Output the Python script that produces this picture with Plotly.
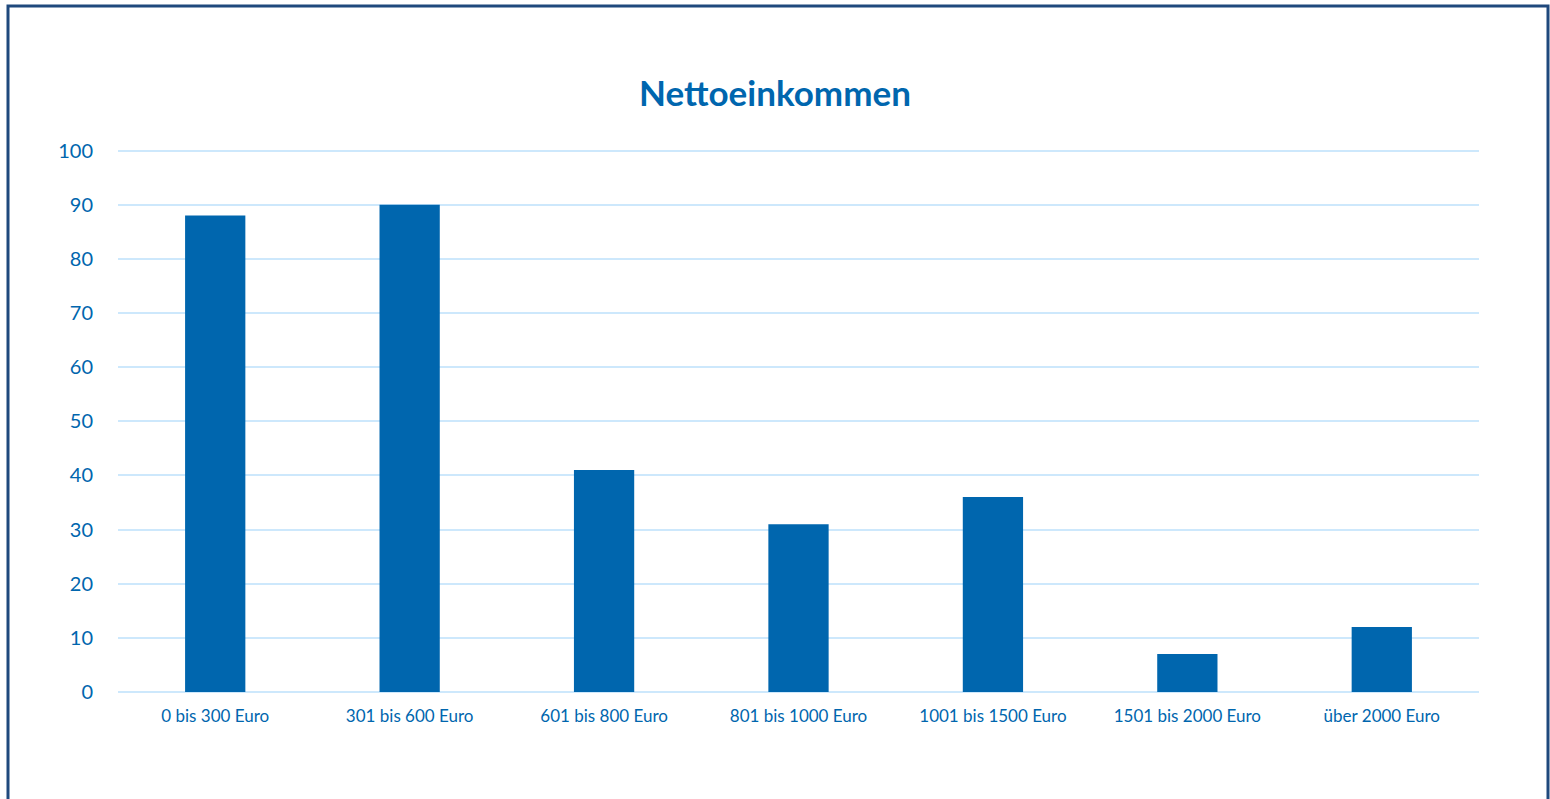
import plotly.graph_objects as go

categories = ["0 bis 300 Euro", "301 bis 600 Euro", "601 bis 800 Euro", "801 bis 1000 Euro",
              "1001 bis 1500 Euro", "1501 bis 2000 Euro", "über 2000 Euro"]
values = [88, 90, 41, 31, 36, 7, 12]
y_ticks = [0, 10, 20, 30, 40, 50, 60, 70, 80, 90, 100]

BLUE = "#0066ae"
GRID = "#cde8fc"
FONT = "Lato, 'Open Sans', sans-serif"

fig = go.Figure(go.Bar(x=categories, y=values, marker_color=BLUE, marker_line_width=0, width=0.31))

fig.update_layout(
    width=1550, height=799,
    margin=dict(l=118, r=71, t=149, b=107),
    paper_bgcolor="white", plot_bgcolor="white",
    font=dict(family=FONT, color=BLUE),
    title=dict(text="<b>Nettoeinkommen</b>", x=775 / 1550, xanchor="center", xref="container",
               y=1 - 94 / 799, yanchor="middle", yref="container",
               font=dict(size=35, color=BLUE, family=FONT)),
    showlegend=False,
)
fig.update_xaxes(showgrid=False, showline=False, tickfont=dict(size=17, color=BLUE),
                 ticks="outside", ticklen=9, tickcolor="rgba(0,0,0,0)")
fig.update_yaxes(range=[0, 100.3], tickvals=y_ticks, showgrid=True, gridcolor=GRID, gridwidth=2,
                 zeroline=True, zerolinecolor=GRID, zerolinewidth=2,
                 tickfont=dict(size=20, color=BLUE),
                 ticks="outside", ticklen=20, tickcolor="rgba(0,0,0,0)")

# outer frame around the whole chart
pw, ph = 1550 - 118 - 71, 799 - 149 - 107
fig.add_shape(type="rect", xref="paper", yref="paper",
              x0=(8 - 118) / pw, x1=(1548 - 118) / pw,
              y0=(692 - 820) / ph, y1=(692 - 6) / ph,
              line=dict(color="#1f497d", width=3), fillcolor="rgba(0,0,0,0)", layer="above")

fig.write_html("out.html", config={"displayModeBar": False},
               post_script="document.body.style.margin='0';")
